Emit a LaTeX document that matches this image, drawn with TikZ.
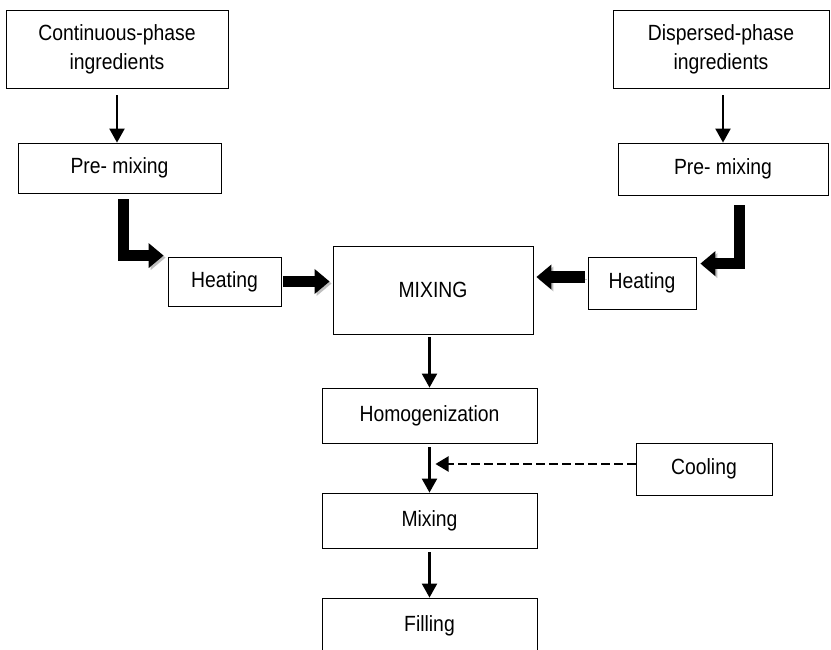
\documentclass[tikz,border=0pt]{standalone}
\usepackage{fontspec}
\setmainfont{Liberation Sans}[FakeStretch=0.88]
\usetikzlibrary{calc,positioning,arrows.meta}

\begin{document}
\begin{tikzpicture}[x=1pt,y=-1pt,
    box/.style={draw,line width=0.8pt,align=center,inner sep=0pt,font=\fontsize{22}{29}\selectfont},
    thinarrow/.style={line width=2.2pt,-{Triangle[width=15pt,length=14pt]}},
    dasharrow/.style={line width=2.2pt,dash pattern=on 9pt off 4pt,-{Triangle[width=15pt,length=13pt]}},
    fatarrow/.style={line width=11pt,line join=miter,-{Triangle[width=24pt,length=15pt]},
      preaction={draw=black!25,transform canvas={shift={(2,2)}}}}]
    \useasboundingbox (0,0) rectangle (831,650);

    % two feed lines
    \node[box,minimum width=222pt,minimum height=78pt] (cont) at (117,49) {Continuous-phase\\ingredients};
    \node[box,minimum width=203pt,minimum height=50pt] (pre1) at (119.5,168) {Pre- mixing};
    \node[box,minimum width=113pt,minimum height=49pt] (heat1) at (224.5,281.5) {Heating};
    \node[box,minimum width=216pt,minimum height=78pt] (disp) at (721,49) {Dispersed-phase\\ingredients};
    \node[box,minimum width=210pt,minimum height=52pt] (pre2) at (723,169) {Pre- mixing};
    \node[box,minimum width=108pt,minimum height=52pt] (heat2) at (642,283) {Heating};

    % main line
    \node[box,minimum width=200pt,minimum height=88pt] (mix) at (433,290) {MIXING};
    \node[box,minimum width=215pt,minimum height=55pt] (homog) at (429.5,415.5) {Homogenization};
    \node[box,minimum width=136pt,minimum height=52pt] (cool) at (704,469) {Cooling};
    \node[box,minimum width=215pt,minimum height=55pt] (mixing) at (429.5,520.5) {Mixing};
    \node[box,minimum width=215pt,minimum height=55pt] (fill) at (429.5,625.5) {Filling};

    \coordinate (heatout) at ($(heat2.west)+(0,-6)$);
    \coordinate (coolout) at ($(cool.west)+(0,-5)$);

    \draw[thinarrow,shorten <=7pt] (cont.south) -- (cont.south |- pre1.north);
    \draw[thinarrow,shorten <=7pt] (pre2.north |- disp.south) -- (pre2.north);
    \draw[fatarrow] ($(pre1.south)+(3.5,6)$) |- ($(heat1.north west)+(-4,-1)$);
    \draw[fatarrow] ($(pre2.south)+(16,10)$) |- ($(heat2.north east)+(4,7)$);
    \draw[fatarrow,shorten <=2pt,shorten >=3pt] (heat1.east) -- (heat1.east -| mix.west);
    \draw[fatarrow,shorten <=3pt,shorten >=3pt] (heatout) -- (heatout -| mix.east);

    \draw[thinarrow,shorten <=3pt] (homog.north |- mix.south) -- (homog.north);
    \draw[thinarrow,shorten <=4pt] (homog.south) -- (mixing.north);
    \draw[thinarrow,shorten <=4pt] (mixing.south) -- (fill.north);
    \draw[dasharrow,shorten >=6pt] (coolout) -- (coolout -| homog.south);
\end{tikzpicture}
\end{document}
